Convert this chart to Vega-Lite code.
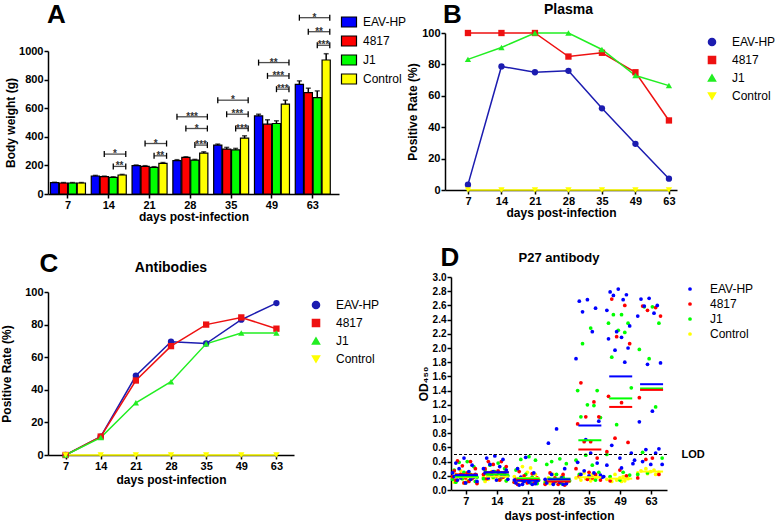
{
"$schema": "https://vega.github.io/schema/vega-lite/v6.json",
"padding": {"left": 0, "top": 1, "right": 0, "bottom": 0},
"config": {
  "font": "Liberation Sans",
  "view": {"stroke": null},
  "axis": {"domainColor": "black", "domainWidth": 1.5, "tickColor": "black", "tickWidth": 1.5, "tickSize": 4, "labelFont": "Liberation Sans", "labelFontWeight": "bold", "labelFontSize": 11, "labelColor": "black", "titleFont": "Liberation Sans", "titleFontWeight": "bold", "titleFontSize": 12, "titleColor": "black", "grid": false, "labelPadding": 1, "titlePadding": 2, "labelOverlap": false},
  "axisY": {"labelOverlap": false},
  "axisQuantitative": {"labelOverlap": false},
  "legend": {"labelFont": "Liberation Sans", "labelFontSize": 12, "labelColor": "black"}
},
"resolve": {"scale": {"color": "independent", "shape": "independent"}, "legend": {"color": "independent", "shape": "independent"}},
"datasets": {
  "bw": [
    {"day": 7, "group": "EAV-HP", "mean": 79, "upper": 82}, {"day": 7, "group": "4817", "mean": 77, "upper": 80}, {"day": 7, "group": "J1", "mean": 77, "upper": 80}, {"day": 7, "group": "Control", "mean": 77, "upper": 80},
    {"day": 14, "group": "EAV-HP", "mean": 126, "upper": 130}, {"day": 14, "group": "4817", "mean": 121, "upper": 125}, {"day": 14, "group": "J1", "mean": 116, "upper": 120}, {"day": 14, "group": "Control", "mean": 133, "upper": 137},
    {"day": 21, "group": "EAV-HP", "mean": 198, "upper": 203}, {"day": 21, "group": "4817", "mean": 193, "upper": 198}, {"day": 21, "group": "J1", "mean": 186, "upper": 191}, {"day": 21, "group": "Control", "mean": 214, "upper": 220},
    {"day": 28, "group": "EAV-HP", "mean": 233, "upper": 240}, {"day": 28, "group": "4817", "mean": 256, "upper": 260}, {"day": 28, "group": "J1", "mean": 237, "upper": 242}, {"day": 28, "group": "Control", "mean": 286, "upper": 295},
    {"day": 35, "group": "EAV-HP", "mean": 342, "upper": 349}, {"day": 35, "group": "4817", "mean": 314, "upper": 326}, {"day": 35, "group": "J1", "mean": 309, "upper": 319}, {"day": 35, "group": "Control", "mean": 391, "upper": 407},
    {"day": 49, "group": "EAV-HP", "mean": 546, "upper": 558}, {"day": 49, "group": "4817", "mean": 488, "upper": 519}, {"day": 49, "group": "J1", "mean": 493, "upper": 512}, {"day": 49, "group": "Control", "mean": 628, "upper": 656},
    {"day": 63, "group": "EAV-HP", "mean": 767, "upper": 791}, {"day": 63, "group": "4817", "mean": 709, "upper": 740}, {"day": 63, "group": "J1", "mean": 674, "upper": 721}, {"day": 63, "group": "Control", "mean": 937, "upper": 981}
  ],
  "brk": [
    {"day": 14, "comp": "4817", "level": 279, "sig": "*"}, {"day": 14, "comp": "J1", "level": 193, "sig": "**"},
    {"day": 21, "comp": "4817", "level": 353, "sig": "*"}, {"day": 21, "comp": "J1", "level": 267, "sig": "**"},
    {"day": 28, "comp": "EAV-HP", "level": 540, "sig": "***"}, {"day": 28, "comp": "4817", "level": 458, "sig": "*"}, {"day": 28, "comp": "J1", "level": 342, "sig": "***"},
    {"day": 35, "comp": "EAV-HP", "level": 656, "sig": "*"}, {"day": 35, "comp": "4817", "level": 558, "sig": "***"}, {"day": 35, "comp": "J1", "level": 458, "sig": "***"},
    {"day": 49, "comp": "EAV-HP", "level": 919, "sig": "**"}, {"day": 49, "comp": "4817", "level": 826, "sig": "***"}, {"day": 49, "comp": "J1", "level": 733, "sig": "***"},
    {"day": 63, "comp": "EAV-HP", "level": 1233, "sig": "*"}, {"day": 63, "comp": "4817", "level": 1135, "sig": "**"}, {"day": 63, "comp": "J1", "level": 1040, "sig": "***"}
  ],
  "plasma": [
    {"day": 7, "g": "EAV-HP", "r": 3.4}, {"day": 14, "g": "EAV-HP", "r": 78.7}, {"day": 21, "g": "EAV-HP", "r": 75}, {"day": 28, "g": "EAV-HP", "r": 75.9}, {"day": 35, "g": "EAV-HP", "r": 52}, {"day": 49, "g": "EAV-HP", "r": 29.4}, {"day": 63, "g": "EAV-HP", "r": 7.2},
    {"day": 7, "g": "4817", "r": 100}, {"day": 14, "g": "4817", "r": 100}, {"day": 21, "g": "4817", "r": 100}, {"day": 28, "g": "4817", "r": 85}, {"day": 35, "g": "4817", "r": 87.4}, {"day": 49, "g": "4817", "r": 75}, {"day": 63, "g": "4817", "r": 44.3},
    {"day": 7, "g": "J1", "r": 83.2}, {"day": 14, "g": "J1", "r": 90.8}, {"day": 21, "g": "J1", "r": 100}, {"day": 28, "g": "J1", "r": 100}, {"day": 35, "g": "J1", "r": 89.5}, {"day": 49, "g": "J1", "r": 72.9}, {"day": 63, "g": "J1", "r": 66.5},
    {"day": 7, "g": "Control", "r": 0}, {"day": 14, "g": "Control", "r": 0}, {"day": 21, "g": "Control", "r": 0}, {"day": 28, "g": "Control", "r": 0}, {"day": 35, "g": "Control", "r": 0}, {"day": 49, "g": "Control", "r": 0}, {"day": 63, "g": "Control", "r": 0}
  ],
  "anti": [
    {"day": 7, "g": "EAV-HP", "r": 0}, {"day": 14, "g": "EAV-HP", "r": 11.3}, {"day": 21, "g": "EAV-HP", "r": 48.6}, {"day": 28, "g": "EAV-HP", "r": 69.5}, {"day": 35, "g": "EAV-HP", "r": 68.4}, {"day": 49, "g": "EAV-HP", "r": 83}, {"day": 63, "g": "EAV-HP", "r": 93.2},
    {"day": 7, "g": "4817", "r": 0}, {"day": 14, "g": "4817", "r": 11.3}, {"day": 21, "g": "4817", "r": 45.7}, {"day": 28, "g": "4817", "r": 66.8}, {"day": 35, "g": "4817", "r": 80}, {"day": 49, "g": "4817", "r": 84.4}, {"day": 63, "g": "4817", "r": 77.5},
    {"day": 7, "g": "J1", "r": 0}, {"day": 14, "g": "J1", "r": 10.7}, {"day": 21, "g": "J1", "r": 32}, {"day": 28, "g": "J1", "r": 45}, {"day": 35, "g": "J1", "r": 68.2}, {"day": 49, "g": "J1", "r": 74.8}, {"day": 63, "g": "J1", "r": 74.8},
    {"day": 7, "g": "Control", "r": 0}, {"day": 14, "g": "Control", "r": 0}, {"day": 21, "g": "Control", "r": 0}, {"day": 28, "g": "Control", "r": 0}, {"day": 35, "g": "Control", "r": 0}, {"day": 49, "g": "Control", "r": 0}, {"day": 63, "g": "Control", "r": 0}
  ],
  "p27mean": [
    {"d": 7, "g": "Control", "m": 0.18}, {"d": 14, "g": "Control", "m": 0.19}, {"d": 21, "g": "Control", "m": 0.17}, {"d": 28, "g": "Control", "m": 0.14}, {"d": 35, "g": "Control", "m": 0.18}, {"d": 49, "g": "Control", "m": 0.16}, {"d": 63, "g": "Control", "m": 0.26},
    {"d": 7, "g": "J1", "m": 0.19}, {"d": 14, "g": "J1", "m": 0.22}, {"d": 21, "g": "J1", "m": 0.16}, {"d": 28, "g": "J1", "m": 0.16}, {"d": 35, "g": "J1", "m": 0.70}, {"d": 49, "g": "J1", "m": 1.29}, {"d": 63, "g": "J1", "m": 1.43},
    {"d": 7, "g": "4817", "m": 0.22}, {"d": 14, "g": "4817", "m": 0.25}, {"d": 21, "g": "4817", "m": 0.14}, {"d": 28, "g": "4817", "m": 0.12}, {"d": 35, "g": "4817", "m": 0.57}, {"d": 49, "g": "4817", "m": 1.17}, {"d": 63, "g": "4817", "m": 1.41},
    {"d": 7, "g": "EAV-HP", "m": 0.21}, {"d": 14, "g": "EAV-HP", "m": 0.25}, {"d": 21, "g": "EAV-HP", "m": 0.13}, {"d": 28, "g": "EAV-HP", "m": 0.15}, {"d": 35, "g": "EAV-HP", "m": 0.91}, {"d": 49, "g": "EAV-HP", "m": 1.60}, {"d": 63, "g": "EAV-HP", "m": 1.49}
  ],
  "p27": [
    {"d":7,"g":"Control","v":0.27,"i":6},{"d":7,"g":"Control","v":0.24,"i":11},{"d":7,"g":"Control","v":0.22,"i":3},{"d":7,"g":"Control","v":0.20,"i":9},{"d":7,"g":"Control","v":0.19,"i":14},{"d":7,"g":"Control","v":0.18,"i":1},{"d":7,"g":"Control","v":0.16,"i":7},{"d":7,"g":"Control","v":0.15,"i":12},{"d":7,"g":"Control","v":0.14,"i":4},{"d":7,"g":"Control","v":0.13,"i":10},{"d":7,"g":"Control","v":0.12,"i":15},{"d":7,"g":"Control","v":0.11,"i":2},{"d":7,"g":"Control","v":0.10,"i":8},
    {"d":14,"g":"Control","v":0.26,"i":6},{"d":14,"g":"Control","v":0.24,"i":11},{"d":14,"g":"Control","v":0.22,"i":3},{"d":14,"g":"Control","v":0.20,"i":9},{"d":14,"g":"Control","v":0.19,"i":14},{"d":14,"g":"Control","v":0.18,"i":1},{"d":14,"g":"Control","v":0.17,"i":7},{"d":14,"g":"Control","v":0.16,"i":12},{"d":14,"g":"Control","v":0.15,"i":4},{"d":14,"g":"Control","v":0.14,"i":10},{"d":14,"g":"Control","v":0.13,"i":15},{"d":14,"g":"Control","v":0.12,"i":2},
    {"d":21,"g":"Control","v":0.33,"i":6},{"d":21,"g":"Control","v":0.31,"i":11},{"d":21,"g":"Control","v":0.30,"i":3},{"d":21,"g":"Control","v":0.25,"i":9},{"d":21,"g":"Control","v":0.22,"i":14},{"d":21,"g":"Control","v":0.19,"i":1},{"d":21,"g":"Control","v":0.17,"i":7},{"d":21,"g":"Control","v":0.15,"i":12},{"d":21,"g":"Control","v":0.13,"i":4},{"d":21,"g":"Control","v":0.11,"i":10},{"d":21,"g":"Control","v":0.10,"i":15},
    {"d":28,"g":"Control","v":0.22,"i":6},{"d":28,"g":"Control","v":0.19,"i":11},{"d":28,"g":"Control","v":0.17,"i":3},{"d":28,"g":"Control","v":0.15,"i":9},{"d":28,"g":"Control","v":0.13,"i":14},{"d":28,"g":"Control","v":0.12,"i":1},{"d":28,"g":"Control","v":0.11,"i":7},{"d":28,"g":"Control","v":0.10,"i":12},{"d":28,"g":"Control","v":0.09,"i":4},
    {"d":35,"g":"Control","v":0.24,"i":6},{"d":35,"g":"Control","v":0.22,"i":11},{"d":35,"g":"Control","v":0.20,"i":3},{"d":35,"g":"Control","v":0.19,"i":9},{"d":35,"g":"Control","v":0.18,"i":14},{"d":35,"g":"Control","v":0.17,"i":1},{"d":35,"g":"Control","v":0.16,"i":7},{"d":35,"g":"Control","v":0.15,"i":12},{"d":35,"g":"Control","v":0.14,"i":4},{"d":35,"g":"Control","v":0.13,"i":10},
    {"d":49,"g":"Control","v":0.22,"i":6},{"d":49,"g":"Control","v":0.19,"i":11},{"d":49,"g":"Control","v":0.18,"i":3},{"d":49,"g":"Control","v":0.17,"i":9},{"d":49,"g":"Control","v":0.16,"i":14},{"d":49,"g":"Control","v":0.15,"i":1},{"d":49,"g":"Control","v":0.14,"i":7},{"d":49,"g":"Control","v":0.13,"i":12},{"d":49,"g":"Control","v":0.12,"i":4},{"d":49,"g":"Control","v":0.12,"i":10},
    {"d":63,"g":"Control","v":0.30,"i":6},{"d":63,"g":"Control","v":0.28,"i":11},{"d":63,"g":"Control","v":0.27,"i":3},{"d":63,"g":"Control","v":0.26,"i":9},{"d":63,"g":"Control","v":0.25,"i":14},{"d":63,"g":"Control","v":0.24,"i":1},{"d":63,"g":"Control","v":0.23,"i":7},{"d":63,"g":"Control","v":0.22,"i":12},
    {"d":7,"g":"J1","v":0.40,"i":10},{"d":7,"g":"J1","v":0.39,"i":5},{"d":7,"g":"J1","v":0.33,"i":14},{"d":7,"g":"J1","v":0.28,"i":2},{"d":7,"g":"J1","v":0.25,"i":8},{"d":7,"g":"J1","v":0.22,"i":12},{"d":7,"g":"J1","v":0.20,"i":4},{"d":7,"g":"J1","v":0.18,"i":16},{"d":7,"g":"J1","v":0.16,"i":7},{"d":7,"g":"J1","v":0.15,"i":1},{"d":7,"g":"J1","v":0.13,"i":11},{"d":7,"g":"J1","v":0.12,"i":15},{"d":7,"g":"J1","v":0.11,"i":3},{"d":7,"g":"J1","v":0.10,"i":9},
    {"d":14,"g":"J1","v":0.38,"i":10},{"d":14,"g":"J1","v":0.35,"i":5},{"d":14,"g":"J1","v":0.30,"i":14},{"d":14,"g":"J1","v":0.28,"i":2},{"d":14,"g":"J1","v":0.26,"i":8},{"d":14,"g":"J1","v":0.24,"i":12},{"d":14,"g":"J1","v":0.22,"i":4},{"d":14,"g":"J1","v":0.20,"i":16},{"d":14,"g":"J1","v":0.18,"i":7},{"d":14,"g":"J1","v":0.16,"i":1},{"d":14,"g":"J1","v":0.15,"i":11},{"d":14,"g":"J1","v":0.13,"i":15},
    {"d":21,"g":"J1","v":0.47,"i":10},{"d":21,"g":"J1","v":0.43,"i":5},{"d":21,"g":"J1","v":0.42,"i":14},{"d":21,"g":"J1","v":0.28,"i":2},{"d":21,"g":"J1","v":0.22,"i":8},{"d":21,"g":"J1","v":0.18,"i":12},{"d":21,"g":"J1","v":0.16,"i":4},{"d":21,"g":"J1","v":0.14,"i":16},{"d":21,"g":"J1","v":0.12,"i":7},{"d":21,"g":"J1","v":0.11,"i":1},{"d":21,"g":"J1","v":0.10,"i":11},{"d":21,"g":"J1","v":0.09,"i":15},
    {"d":28,"g":"J1","v":0.44,"i":10},{"d":28,"g":"J1","v":0.40,"i":5},{"d":28,"g":"J1","v":0.37,"i":14},{"d":28,"g":"J1","v":0.36,"i":2},{"d":28,"g":"J1","v":0.22,"i":8},{"d":28,"g":"J1","v":0.18,"i":12},{"d":28,"g":"J1","v":0.15,"i":4},{"d":28,"g":"J1","v":0.13,"i":16},{"d":28,"g":"J1","v":0.12,"i":7},{"d":28,"g":"J1","v":0.10,"i":1},{"d":28,"g":"J1","v":0.09,"i":11},
    {"d":35,"g":"J1","v":2.28,"i":10},{"d":35,"g":"J1","v":2.06,"i":5},{"d":35,"g":"J1","v":1.40,"i":14},{"d":35,"g":"J1","v":1.40,"i":2},{"d":35,"g":"J1","v":1.20,"i":8},{"d":35,"g":"J1","v":1.19,"i":12},{"d":35,"g":"J1","v":1.03,"i":4},{"d":35,"g":"J1","v":1.02,"i":16},{"d":35,"g":"J1","v":0.49,"i":7},{"d":35,"g":"J1","v":0.42,"i":1},{"d":35,"g":"J1","v":0.35,"i":11},{"d":35,"g":"J1","v":0.25,"i":15},{"d":35,"g":"J1","v":0.22,"i":3},{"d":35,"g":"J1","v":0.18,"i":9},{"d":35,"g":"J1","v":0.14,"i":13},
    {"d":49,"g":"J1","v":2.47,"i":10},{"d":49,"g":"J1","v":2.47,"i":5},{"d":49,"g":"J1","v":2.35,"i":14},{"d":49,"g":"J1","v":2.35,"i":2},{"d":49,"g":"J1","v":2.25,"i":8},{"d":49,"g":"J1","v":2.22,"i":12},{"d":49,"g":"J1","v":1.87,"i":4},{"d":49,"g":"J1","v":1.44,"i":16},{"d":49,"g":"J1","v":0.92,"i":7},{"d":49,"g":"J1","v":0.50,"i":1},{"d":49,"g":"J1","v":0.25,"i":11},{"d":49,"g":"J1","v":0.21,"i":15},{"d":49,"g":"J1","v":0.19,"i":3},{"d":49,"g":"J1","v":0.14,"i":9},
    {"d":63,"g":"J1","v":2.58,"i":10},{"d":63,"g":"J1","v":2.58,"i":5},{"d":63,"g":"J1","v":2.35,"i":14},{"d":63,"g":"J1","v":1.98,"i":2},{"d":63,"g":"J1","v":1.85,"i":8},{"d":63,"g":"J1","v":1.17,"i":12},{"d":63,"g":"J1","v":0.53,"i":4},{"d":63,"g":"J1","v":0.45,"i":16},{"d":63,"g":"J1","v":0.24,"i":7},{"d":63,"g":"J1","v":0.22,"i":1},
    {"d":7,"g":"4817","v":0.41,"i":4},{"d":7,"g":"4817","v":0.40,"i":12},{"d":7,"g":"4817","v":0.34,"i":7},{"d":7,"g":"4817","v":0.30,"i":15},{"d":7,"g":"4817","v":0.27,"i":2},{"d":7,"g":"4817","v":0.24,"i":10},{"d":7,"g":"4817","v":0.22,"i":6},{"d":7,"g":"4817","v":0.20,"i":14},{"d":7,"g":"4817","v":0.19,"i":1},{"d":7,"g":"4817","v":0.17,"i":9},{"d":7,"g":"4817","v":0.16,"i":13},{"d":7,"g":"4817","v":0.14,"i":3},{"d":7,"g":"4817","v":0.12,"i":11},{"d":7,"g":"4817","v":0.10,"i":8},{"d":7,"g":"4817","v":0.09,"i":16},
    {"d":14,"g":"4817","v":0.40,"i":4},{"d":14,"g":"4817","v":0.40,"i":12},{"d":14,"g":"4817","v":0.36,"i":7},{"d":14,"g":"4817","v":0.33,"i":15},{"d":14,"g":"4817","v":0.30,"i":2},{"d":14,"g":"4817","v":0.27,"i":10},{"d":14,"g":"4817","v":0.25,"i":6},{"d":14,"g":"4817","v":0.24,"i":14},{"d":14,"g":"4817","v":0.22,"i":1},{"d":14,"g":"4817","v":0.20,"i":9},{"d":14,"g":"4817","v":0.18,"i":13},{"d":14,"g":"4817","v":0.16,"i":3},{"d":14,"g":"4817","v":0.14,"i":11},
    {"d":21,"g":"4817","v":0.26,"i":4},{"d":21,"g":"4817","v":0.23,"i":12},{"d":21,"g":"4817","v":0.20,"i":7},{"d":21,"g":"4817","v":0.17,"i":15},{"d":21,"g":"4817","v":0.15,"i":2},{"d":21,"g":"4817","v":0.14,"i":10},{"d":21,"g":"4817","v":0.13,"i":6},{"d":21,"g":"4817","v":0.12,"i":14},{"d":21,"g":"4817","v":0.11,"i":1},{"d":21,"g":"4817","v":0.10,"i":9},{"d":21,"g":"4817","v":0.09,"i":13},{"d":21,"g":"4817","v":0.08,"i":3},
    {"d":28,"g":"4817","v":0.24,"i":4},{"d":28,"g":"4817","v":0.22,"i":12},{"d":28,"g":"4817","v":0.17,"i":7},{"d":28,"g":"4817","v":0.14,"i":15},{"d":28,"g":"4817","v":0.12,"i":2},{"d":28,"g":"4817","v":0.11,"i":10},{"d":28,"g":"4817","v":0.10,"i":6},{"d":28,"g":"4817","v":0.09,"i":14},{"d":28,"g":"4817","v":0.08,"i":1},{"d":28,"g":"4817","v":0.08,"i":9},{"d":28,"g":"4817","v":0.07,"i":13},
    {"d":35,"g":"4817","v":1.51,"i":4},{"d":35,"g":"4817","v":1.24,"i":12},{"d":35,"g":"4817","v":1.03,"i":7},{"d":35,"g":"4817","v":1.03,"i":15},{"d":35,"g":"4817","v":0.93,"i":2},{"d":35,"g":"4817","v":0.68,"i":10},{"d":35,"g":"4817","v":0.68,"i":6},{"d":35,"g":"4817","v":0.45,"i":14},{"d":35,"g":"4817","v":0.30,"i":1},{"d":35,"g":"4817","v":0.25,"i":9},{"d":35,"g":"4817","v":0.22,"i":13},{"d":35,"g":"4817","v":0.19,"i":3},{"d":35,"g":"4817","v":0.17,"i":11},{"d":35,"g":"4817","v":0.15,"i":8},{"d":35,"g":"4817","v":0.14,"i":16},
    {"d":49,"g":"4817","v":2.69,"i":4},{"d":49,"g":"4817","v":2.60,"i":12},{"d":49,"g":"4817","v":2.16,"i":7},{"d":49,"g":"4817","v":2.06,"i":15},{"d":49,"g":"4817","v":1.32,"i":2},{"d":49,"g":"4817","v":1.23,"i":10},{"d":49,"g":"4817","v":0.73,"i":6},{"d":49,"g":"4817","v":0.67,"i":14},{"d":49,"g":"4817","v":0.54,"i":1},{"d":49,"g":"4817","v":0.28,"i":9},{"d":49,"g":"4817","v":0.20,"i":13},{"d":49,"g":"4817","v":0.13,"i":3},
    {"d":63,"g":"4817","v":2.59,"i":4},{"d":63,"g":"4817","v":2.57,"i":12},{"d":63,"g":"4817","v":2.53,"i":7},{"d":63,"g":"4817","v":2.45,"i":15},{"d":63,"g":"4817","v":1.30,"i":2},{"d":63,"g":"4817","v":0.45,"i":10},{"d":63,"g":"4817","v":0.43,"i":6},{"d":63,"g":"4817","v":0.22,"i":14},{"d":63,"g":"4817","v":0.17,"i":1},
    {"d":7,"g":"EAV-HP","v":0.45,"i":8},{"d":7,"g":"EAV-HP","v":0.38,"i":3},{"d":7,"g":"EAV-HP","v":0.35,"i":13},{"d":7,"g":"EAV-HP","v":0.30,"i":5},{"d":7,"g":"EAV-HP","v":0.26,"i":11},{"d":7,"g":"EAV-HP","v":0.24,"i":1},{"d":7,"g":"EAV-HP","v":0.22,"i":15},{"d":7,"g":"EAV-HP","v":0.21,"i":7},{"d":7,"g":"EAV-HP","v":0.20,"i":10},{"d":7,"g":"EAV-HP","v":0.19,"i":2},{"d":7,"g":"EAV-HP","v":0.18,"i":14},{"d":7,"g":"EAV-HP","v":0.17,"i":6},{"d":7,"g":"EAV-HP","v":0.15,"i":12},{"d":7,"g":"EAV-HP","v":0.14,"i":4},{"d":7,"g":"EAV-HP","v":0.12,"i":16},{"d":7,"g":"EAV-HP","v":0.10,"i":9},
    {"d":14,"g":"EAV-HP","v":0.48,"i":8},{"d":14,"g":"EAV-HP","v":0.45,"i":3},{"d":14,"g":"EAV-HP","v":0.43,"i":13},{"d":14,"g":"EAV-HP","v":0.36,"i":5},{"d":14,"g":"EAV-HP","v":0.33,"i":11},{"d":14,"g":"EAV-HP","v":0.30,"i":1},{"d":14,"g":"EAV-HP","v":0.28,"i":15},{"d":14,"g":"EAV-HP","v":0.26,"i":7},{"d":14,"g":"EAV-HP","v":0.25,"i":10},{"d":14,"g":"EAV-HP","v":0.24,"i":2},{"d":14,"g":"EAV-HP","v":0.22,"i":14},{"d":14,"g":"EAV-HP","v":0.21,"i":6},{"d":14,"g":"EAV-HP","v":0.19,"i":12},{"d":14,"g":"EAV-HP","v":0.17,"i":4},{"d":14,"g":"EAV-HP","v":0.15,"i":16},{"d":14,"g":"EAV-HP","v":0.14,"i":9},
    {"d":21,"g":"EAV-HP","v":0.46,"i":8},{"d":21,"g":"EAV-HP","v":0.30,"i":3},{"d":21,"g":"EAV-HP","v":0.24,"i":13},{"d":21,"g":"EAV-HP","v":0.18,"i":5},{"d":21,"g":"EAV-HP","v":0.16,"i":11},{"d":21,"g":"EAV-HP","v":0.14,"i":1},{"d":21,"g":"EAV-HP","v":0.13,"i":15},{"d":21,"g":"EAV-HP","v":0.12,"i":7},{"d":21,"g":"EAV-HP","v":0.11,"i":10},{"d":21,"g":"EAV-HP","v":0.10,"i":2},{"d":21,"g":"EAV-HP","v":0.09,"i":14},{"d":21,"g":"EAV-HP","v":0.08,"i":6},{"d":21,"g":"EAV-HP","v":0.08,"i":12},{"d":21,"g":"EAV-HP","v":0.07,"i":4},
    {"d":28,"g":"EAV-HP","v":0.86,"i":8},{"d":28,"g":"EAV-HP","v":0.66,"i":3},{"d":28,"g":"EAV-HP","v":0.30,"i":13},{"d":28,"g":"EAV-HP","v":0.22,"i":5},{"d":28,"g":"EAV-HP","v":0.17,"i":11},{"d":28,"g":"EAV-HP","v":0.15,"i":1},{"d":28,"g":"EAV-HP","v":0.13,"i":15},{"d":28,"g":"EAV-HP","v":0.12,"i":7},{"d":28,"g":"EAV-HP","v":0.11,"i":10},{"d":28,"g":"EAV-HP","v":0.10,"i":2},{"d":28,"g":"EAV-HP","v":0.09,"i":14},{"d":28,"g":"EAV-HP","v":0.08,"i":6},{"d":28,"g":"EAV-HP","v":0.08,"i":12},
    {"d":35,"g":"EAV-HP","v":2.68,"i":8},{"d":35,"g":"EAV-HP","v":2.66,"i":3},{"d":35,"g":"EAV-HP","v":2.56,"i":13},{"d":35,"g":"EAV-HP","v":2.51,"i":5},{"d":35,"g":"EAV-HP","v":2.23,"i":11},{"d":35,"g":"EAV-HP","v":1.85,"i":1},{"d":35,"g":"EAV-HP","v":0.97,"i":15},{"d":35,"g":"EAV-HP","v":0.71,"i":7},{"d":35,"g":"EAV-HP","v":0.52,"i":10},{"d":35,"g":"EAV-HP","v":0.39,"i":2},{"d":35,"g":"EAV-HP","v":0.38,"i":14},{"d":35,"g":"EAV-HP","v":0.27,"i":6},{"d":35,"g":"EAV-HP","v":0.24,"i":12},{"d":35,"g":"EAV-HP","v":0.22,"i":4},{"d":35,"g":"EAV-HP","v":0.21,"i":16},{"d":35,"g":"EAV-HP","v":0.20,"i":9},{"d":35,"g":"EAV-HP","v":0.19,"i":18},{"d":35,"g":"EAV-HP","v":0.18,"i":17},
    {"d":49,"g":"EAV-HP","v":2.83,"i":8},{"d":49,"g":"EAV-HP","v":2.79,"i":3},{"d":49,"g":"EAV-HP","v":2.75,"i":13},{"d":49,"g":"EAV-HP","v":2.74,"i":5},{"d":49,"g":"EAV-HP","v":2.68,"i":11},{"d":49,"g":"EAV-HP","v":2.53,"i":1},{"d":49,"g":"EAV-HP","v":2.31,"i":15},{"d":49,"g":"EAV-HP","v":2.23,"i":7},{"d":49,"g":"EAV-HP","v":2.15,"i":10},{"d":49,"g":"EAV-HP","v":2.13,"i":2},{"d":49,"g":"EAV-HP","v":2.00,"i":14},{"d":49,"g":"EAV-HP","v":1.97,"i":6},{"d":49,"g":"EAV-HP","v":1.80,"i":12},{"d":49,"g":"EAV-HP","v":0.63,"i":4},{"d":49,"g":"EAV-HP","v":0.52,"i":16},{"d":49,"g":"EAV-HP","v":0.45,"i":9},{"d":49,"g":"EAV-HP","v":0.42,"i":18},{"d":49,"g":"EAV-HP","v":0.37,"i":17},{"d":49,"g":"EAV-HP","v":0.35,"i":1},{"d":49,"g":"EAV-HP","v":0.31,"i":10},
    {"d":63,"g":"EAV-HP","v":2.70,"i":8},{"d":63,"g":"EAV-HP","v":2.69,"i":3},{"d":63,"g":"EAV-HP","v":2.60,"i":13},{"d":63,"g":"EAV-HP","v":2.59,"i":5},{"d":63,"g":"EAV-HP","v":2.49,"i":11},{"d":63,"g":"EAV-HP","v":2.45,"i":1},{"d":63,"g":"EAV-HP","v":1.79,"i":15},{"d":63,"g":"EAV-HP","v":1.77,"i":7},{"d":63,"g":"EAV-HP","v":1.11,"i":10},{"d":63,"g":"EAV-HP","v":0.96,"i":2},{"d":63,"g":"EAV-HP","v":0.58,"i":14},{"d":63,"g":"EAV-HP","v":0.57,"i":6},{"d":63,"g":"EAV-HP","v":0.52,"i":12},{"d":63,"g":"EAV-HP","v":0.40,"i":4},{"d":63,"g":"EAV-HP","v":0.36,"i":16},{"d":63,"g":"EAV-HP","v":0.36,"i":9}
  ]
},
"spacing": 23,
"vconcat": [
 {
  "spacing": -1,
  "resolve": {"scale": {"color": "independent", "shape": "independent"}, "legend": {"color": "independent", "shape": "independent"}},
  "hconcat": [
   {
    "width": 291, "height": 161,
    "data": {"name": "bw"},
    "encoding": {
      "x": {"field": "day", "type": "ordinal", "title": "days post-infection", "scale": {"type": "band", "paddingInner": 0.142, "paddingOuter": 0.137, "align": 0.22}, "axis": {"labelAngle": 0, "titlePadding": 1}}
    },
    "layer": [
     {"transform": [{"filter": "datum.group === 'EAV-HP'"}],
      "mark": {"type": "bar", "stroke": "black", "strokeWidth": 1.2, "width": 8.2, "xOffset": -13.4},
      "encoding": {
        "y": {"field": "mean", "type": "quantitative", "stack": null, "title": "Body weight (g)", "scale": {"domain": [0, 1000], "range": [161, 18]}, "axis": {"values": [0, 200, 400, 600, 800, 1000], "format": "d", "titleX": -31, "labelOverlap": false}},
        "color": {"field": "group", "type": "nominal", "scale": {"domain": ["EAV-HP", "4817", "J1", "Control"], "range": ["#0000ff", "#ff0000", "#00ff00", "#ffff00"]},
          "legend": {"title": null, "orient": "none", "legendX": 295, "legendY": -17, "symbolType": "M-1.5,-1H1.5V1H-1.5Z", "symbolSize": 100, "symbolStrokeColor": "black", "symbolStrokeWidth": 1.2, "symbolOpacity": 1, "labelFontSize": 12, "labelOffset": 8, "rowPadding": 3}}
      }},
     {"transform": [{"filter": "datum.group === '4817'"}],
      "mark": {"type": "bar", "stroke": "black", "strokeWidth": 1.2, "width": 8.2, "xOffset": -4.47},
      "encoding": {
        "y": {"field": "mean", "type": "quantitative", "stack": null, "title": "Body weight (g)", "axis": {"values": [0, 200, 400, 600, 800, 1000], "format": "d", "titleX": -31, "labelOverlap": false}},
        "color": {"field": "group", "type": "nominal"}
      }},
     {"transform": [{"filter": "datum.group === 'J1'"}],
      "mark": {"type": "bar", "stroke": "black", "strokeWidth": 1.2, "width": 8.2, "xOffset": 4.47},
      "encoding": {
        "y": {"field": "mean", "type": "quantitative", "stack": null, "title": "Body weight (g)", "axis": {"values": [0, 200, 400, 600, 800, 1000], "format": "d", "titleX": -31, "labelOverlap": false}},
        "color": {"field": "group", "type": "nominal"}
      }},
     {"transform": [{"filter": "datum.group === 'Control'"}],
      "mark": {"type": "bar", "stroke": "black", "strokeWidth": 1.2, "width": 8.2, "xOffset": 13.4},
      "encoding": {
        "y": {"field": "mean", "type": "quantitative", "stack": null, "title": "Body weight (g)", "axis": {"values": [0, 200, 400, 600, 800, 1000], "format": "d", "titleX": -31, "labelOverlap": false}},
        "color": {"field": "group", "type": "nominal"}
      }},
     {"transform": [{"filter": "datum.group === 'EAV-HP'"}], "mark": {"type": "rule", "color": "black", "strokeWidth": 1.5, "xOffset": -13.4},
      "encoding": {"y": {"field": "mean", "type": "quantitative", "title": "Body weight (g)", "axis": {"values": [0, 200, 400, 600, 800, 1000], "format": "d", "titleX": -31, "labelOverlap": false}}, "y2": {"field": "upper"}}},
     {"transform": [{"filter": "datum.group === '4817'"}], "mark": {"type": "rule", "color": "black", "strokeWidth": 1.5, "xOffset": -4.47},
      "encoding": {"y": {"field": "mean", "type": "quantitative", "title": "Body weight (g)", "axis": {"values": [0, 200, 400, 600, 800, 1000], "format": "d", "titleX": -31, "labelOverlap": false}}, "y2": {"field": "upper"}}},
     {"transform": [{"filter": "datum.group === 'J1'"}], "mark": {"type": "rule", "color": "black", "strokeWidth": 1.5, "xOffset": 4.47},
      "encoding": {"y": {"field": "mean", "type": "quantitative", "title": "Body weight (g)", "axis": {"values": [0, 200, 400, 600, 800, 1000], "format": "d", "titleX": -31, "labelOverlap": false}}, "y2": {"field": "upper"}}},
     {"transform": [{"filter": "datum.group === 'Control'"}], "mark": {"type": "rule", "color": "black", "strokeWidth": 1.5, "xOffset": 13.4},
      "encoding": {"y": {"field": "mean", "type": "quantitative", "title": "Body weight (g)", "axis": {"values": [0, 200, 400, 600, 800, 1000], "format": "d", "titleX": -31, "labelOverlap": false}}, "y2": {"field": "upper"}}},
     {"transform": [{"filter": "datum.group === 'EAV-HP'"}], "mark": {"type": "tick", "color": "black", "thickness": 1.5, "size": 5, "xOffset": -13.4},
      "encoding": {"y": {"field": "upper", "type": "quantitative", "title": "Body weight (g)", "axis": {"values": [0, 200, 400, 600, 800, 1000], "format": "d", "titleX": -31, "labelOverlap": false}}}},
     {"transform": [{"filter": "datum.group === '4817'"}], "mark": {"type": "tick", "color": "black", "thickness": 1.5, "size": 5, "xOffset": -4.47},
      "encoding": {"y": {"field": "upper", "type": "quantitative", "title": "Body weight (g)", "axis": {"values": [0, 200, 400, 600, 800, 1000], "format": "d", "titleX": -31, "labelOverlap": false}}}},
     {"transform": [{"filter": "datum.group === 'J1'"}], "mark": {"type": "tick", "color": "black", "thickness": 1.5, "size": 5, "xOffset": 4.47},
      "encoding": {"y": {"field": "upper", "type": "quantitative", "title": "Body weight (g)", "axis": {"values": [0, 200, 400, 600, 800, 1000], "format": "d", "titleX": -31, "labelOverlap": false}}}},
     {"transform": [{"filter": "datum.group === 'Control'"}], "mark": {"type": "tick", "color": "black", "thickness": 1.5, "size": 5, "xOffset": 13.4},
      "encoding": {"y": {"field": "upper", "type": "quantitative", "title": "Body weight (g)", "axis": {"values": [0, 200, 400, 600, 800, 1000], "format": "d", "titleX": -31, "labelOverlap": false}}}},
     {"data": {"name": "brk"}, "transform": [{"filter": "datum.comp === 'EAV-HP'"}],
      "mark": {"type": "tick", "color": "black", "thickness": 1.3, "size": 30.5, "xOffset": 1.75},
      "encoding": {"y": {"field": "level", "type": "quantitative", "title": "Body weight (g)", "axis": {"values": [0, 200, 400, 600, 800, 1000], "format": "d", "titleX": -31, "labelOverlap": false}}}},
     {"data": {"name": "brk"}, "transform": [{"filter": "datum.comp === '4817'"}],
      "mark": {"type": "tick", "color": "black", "thickness": 1.3, "size": 21.5, "xOffset": 6.25},
      "encoding": {"y": {"field": "level", "type": "quantitative", "title": "Body weight (g)", "axis": {"values": [0, 200, 400, 600, 800, 1000], "format": "d", "titleX": -31, "labelOverlap": false}}}},
     {"data": {"name": "brk"}, "transform": [{"filter": "datum.comp === 'J1'"}],
      "mark": {"type": "tick", "color": "black", "thickness": 1.3, "size": 12.5, "xOffset": 10.75},
      "encoding": {"y": {"field": "level", "type": "quantitative", "title": "Body weight (g)", "axis": {"values": [0, 200, 400, 600, 800, 1000], "format": "d", "titleX": -31, "labelOverlap": false}}}},
     {"data": {"name": "brk"}, "transform": [{"filter": "datum.comp === 'EAV-HP'"}],
      "mark": {"type": "rule", "color": "black", "strokeWidth": 1.3, "xOffset": -13.4, "yOffset": -3, "y2Offset": 3},
      "encoding": {"y": {"field": "level", "type": "quantitative", "title": "Body weight (g)", "axis": {"values": [0, 200, 400, 600, 800, 1000], "format": "d", "titleX": -31, "labelOverlap": false}}, "y2": {"field": "level"}}},
     {"data": {"name": "brk"}, "transform": [{"filter": "datum.comp === '4817'"}],
      "mark": {"type": "rule", "color": "black", "strokeWidth": 1.3, "xOffset": -4.5, "yOffset": -3, "y2Offset": 3},
      "encoding": {"y": {"field": "level", "type": "quantitative", "title": "Body weight (g)", "axis": {"values": [0, 200, 400, 600, 800, 1000], "format": "d", "titleX": -31, "labelOverlap": false}}, "y2": {"field": "level"}}},
     {"data": {"name": "brk"}, "transform": [{"filter": "datum.comp === 'J1'"}],
      "mark": {"type": "rule", "color": "black", "strokeWidth": 1.3, "xOffset": 4.5, "yOffset": -3, "y2Offset": 3},
      "encoding": {"y": {"field": "level", "type": "quantitative", "title": "Body weight (g)", "axis": {"values": [0, 200, 400, 600, 800, 1000], "format": "d", "titleX": -31, "labelOverlap": false}}, "y2": {"field": "level"}}},
     {"data": {"name": "brk"},
      "mark": {"type": "rule", "color": "black", "strokeWidth": 1.3, "xOffset": 17, "yOffset": -3, "y2Offset": 3},
      "encoding": {"y": {"field": "level", "type": "quantitative", "title": "Body weight (g)", "axis": {"values": [0, 200, 400, 600, 800, 1000], "format": "d", "titleX": -31, "labelOverlap": false}}, "y2": {"field": "level"}}},
     {"data": {"name": "brk"}, "transform": [{"filter": "datum.comp === 'EAV-HP'"}],
      "mark": {"type": "text", "xOffset": 1.75, "baseline": "alphabetic", "dy": 3, "fontSize": 10, "fontWeight": "bold", "color": "#333333"},
      "encoding": {"y": {"field": "level", "type": "quantitative", "title": "Body weight (g)", "axis": {"values": [0, 200, 400, 600, 800, 1000], "format": "d", "titleX": -31, "labelOverlap": false}}, "text": {"field": "sig"}}},
     {"data": {"name": "brk"}, "transform": [{"filter": "datum.comp === '4817'"}],
      "mark": {"type": "text", "xOffset": 6.25, "baseline": "alphabetic", "dy": 3, "fontSize": 10, "fontWeight": "bold", "color": "#333333"},
      "encoding": {"y": {"field": "level", "type": "quantitative", "title": "Body weight (g)", "axis": {"values": [0, 200, 400, 600, 800, 1000], "format": "d", "titleX": -31, "labelOverlap": false}}, "text": {"field": "sig"}}},
     {"data": {"name": "brk"}, "transform": [{"filter": "datum.comp === 'J1'"}],
      "mark": {"type": "text", "xOffset": 10.75, "baseline": "alphabetic", "dy": 3, "fontSize": 10, "fontWeight": "bold", "color": "#333333"},
      "encoding": {"y": {"field": "level", "type": "quantitative", "title": "Body weight (g)", "axis": {"values": [0, 200, 400, 600, 800, 1000], "format": "d", "titleX": -31, "labelOverlap": false}}, "text": {"field": "sig"}}},
     {"data": {"values": [{"day": 7, "lvl": 1196, "t": "A"}]},
      "mark": {"type": "text", "fontSize": 26, "fontWeight": "bold", "align": "left", "baseline": "alphabetic", "dx": -21},
      "encoding": {"y": {"field": "lvl", "type": "quantitative", "title": "Body weight (g)", "axis": {"values": [0, 200, 400, 600, 800, 1000], "format": "d", "titleX": -31, "labelOverlap": false}}, "text": {"field": "t"}}}
    ]
   },
   {
    "width": 232, "height": 157,
    "data": {"name": "plasma"},
    "encoding": {
      "x": {"field": "day", "type": "ordinal", "title": "days post-infection", "scale": {"type": "point", "padding": 0.463, "align": 0.74}, "axis": {"labelAngle": 0, "titlePadding": 1}}
    },
    "layer": [
     {"mark": {"type": "line", "strokeWidth": 1.5},
      "encoding": {
        "y": {"field": "r", "type": "quantitative", "title": "Positive Rate (%)", "scale": {"domain": [0, 100]}, "axis": {"values": [0, 20, 40, 60, 80, 100], "labelOverlap": false}},
        "color": {"field": "g", "type": "nominal", "scale": {"domain": ["EAV-HP", "4817", "J1", "Control"], "range": ["#1c1cb0", "#ee1111", "#22ee22", "#ffff00"]},
          "legend": {"title": null, "orient": "none", "legendX": 261, "legendY": 3, "symbolSize": 50, "symbolOpacity": 1, "labelFontSize": 12, "labelOffset": 14, "rowPadding": 4}}
      }},
     {"mark": {"type": "point", "filled": true, "size": 40, "opacity": 1},
      "encoding": {
        "y": {"field": "r", "type": "quantitative", "title": "Positive Rate (%)", "axis": {"values": [0, 20, 40, 60, 80, 100], "labelOverlap": false}},
        "color": {"field": "g", "type": "nominal", "scale": {"domain": ["EAV-HP", "4817", "J1", "Control"], "range": ["#1c1cb0", "#ee1111", "#22ee22", "#ffff00"]},
          "legend": {"title": null, "orient": "none", "legendX": 261, "legendY": 3, "symbolSize": 50, "symbolOpacity": 1, "labelFontSize": 12, "labelOffset": 14, "rowPadding": 4}},
        "shape": {"field": "g", "type": "nominal", "scale": {"domain": ["EAV-HP", "4817", "J1", "Control"], "range": ["circle", "square", "triangle-up", "triangle-down"]},
          "legend": {"title": null, "orient": "none", "legendX": 261, "legendY": 3, "symbolSize": 50, "symbolOpacity": 1, "labelFontSize": 12, "labelOffset": 14, "rowPadding": 4}}
      }},
     {"data": {"values": [{"day": 28, "lvl": 112, "t": "Plasma"}]},
      "mark": {"type": "text", "fontSize": 14, "fontWeight": "bold", "align": "center", "baseline": "alphabetic"},
      "encoding": {"y": {"field": "lvl", "type": "quantitative", "title": "Positive Rate (%)", "axis": {"values": [0, 20, 40, 60, 80, 100], "labelOverlap": false}}, "text": {"field": "t"}}},
     {"data": {"values": [{"day": 7, "lvl": 106.4, "t": "B"}]},
      "mark": {"type": "text", "fontSize": 26, "fontWeight": "bold", "align": "left", "baseline": "alphabetic", "dx": -25},
      "encoding": {"y": {"field": "lvl", "type": "quantitative", "title": "Positive Rate (%)", "axis": {"values": [0, 20, 40, 60, 80, 100], "labelOverlap": false}}, "text": {"field": "t"}}}
    ]
   }
  ]
 },
 {
  "spacing": 37,
  "resolve": {"scale": {"color": "independent", "shape": "independent"}, "legend": {"color": "independent", "shape": "independent"}},
  "hconcat": [
   {
    "width": 246, "height": 178,
    "data": {"name": "anti"},
    "encoding": {
      "x": {"field": "day", "type": "ordinal", "title": "days post-infection", "scale": {"type": "point", "padding": 0.5}, "axis": {"labelAngle": 0, "titlePadding": 3}}
    },
    "layer": [
     {"mark": {"type": "line", "strokeWidth": 1.5},
      "encoding": {
        "y": {"field": "r", "type": "quantitative", "title": "Positive Rate (%)", "scale": {"domain": [0, 100], "range": [178, 15]}, "axis": {"values": [0, 20, 40, 60, 80, 100], "titlePadding": 11, "labelOverlap": false}},
        "color": {"field": "g", "type": "nominal", "scale": {"domain": ["EAV-HP", "4817", "J1", "Control"], "range": ["#1c1cb0", "#ee1111", "#22ee22", "#ffff00"]},
          "legend": {"title": null, "orient": "none", "legendX": 262, "legendY": 22, "symbolSize": 50, "symbolOpacity": 1, "labelFontSize": 12, "labelOffset": 14, "rowPadding": 4}}
      }},
     {"mark": {"type": "point", "filled": true, "size": 40, "opacity": 1},
      "encoding": {
        "y": {"field": "r", "type": "quantitative", "title": "Positive Rate (%)", "axis": {"values": [0, 20, 40, 60, 80, 100], "titlePadding": 11, "labelOverlap": false}},
        "color": {"field": "g", "type": "nominal", "scale": {"domain": ["EAV-HP", "4817", "J1", "Control"], "range": ["#1c1cb0", "#ee1111", "#22ee22", "#ffff00"]},
          "legend": {"title": null, "orient": "none", "legendX": 262, "legendY": 22, "symbolSize": 50, "symbolOpacity": 1, "labelFontSize": 12, "labelOffset": 14, "rowPadding": 4}},
        "shape": {"field": "g", "type": "nominal", "scale": {"domain": ["EAV-HP", "4817", "J1", "Control"], "range": ["circle", "square", "triangle-up", "triangle-down"]},
          "legend": {"title": null, "orient": "none", "legendX": 262, "legendY": 22, "symbolSize": 50, "symbolOpacity": 1, "labelFontSize": 12, "labelOffset": 14, "rowPadding": 4}}
      }},
     {"data": {"values": [{"day": 28, "lvl": 112.3, "t": "Antibodies"}]},
      "mark": {"type": "text", "fontSize": 14, "fontWeight": "bold", "align": "center", "baseline": "alphabetic"},
      "encoding": {"y": {"field": "lvl", "type": "quantitative", "title": "Positive Rate (%)", "axis": {"values": [0, 20, 40, 60, 80, 100], "titlePadding": 11, "labelOverlap": false}}, "text": {"field": "t"}}},
     {"data": {"values": [{"day": 7, "lvl": 112.3, "t": "C"}]},
      "mark": {"type": "text", "fontSize": 26, "fontWeight": "bold", "align": "left", "baseline": "alphabetic", "dx": -26},
      "encoding": {"y": {"field": "lvl", "type": "quantitative", "title": "Positive Rate (%)", "axis": {"values": [0, 20, 40, 60, 80, 100], "titlePadding": 11, "labelOverlap": false}}, "text": {"field": "t"}}}
    ]
   },
   {
    "width": 216, "height": 213,
    "encoding": {
      "x": {"field": "d", "type": "ordinal", "title": "days post-infection", "scale": {"type": "band", "paddingInner": 0.05, "paddingOuter": 0.025}, "axis": {"labelAngle": 0, "titlePadding": 4}}
    },
    "layer": [
     {"data": {"name": "p27"},
      "mark": {"type": "circle", "size": 14, "opacity": 1},
      "encoding": {
        "xOffset": {"field": "i", "type": "nominal", "scale": {"domain": [1,2,3,4,5,6,7,8,9,10,11,12,13,14,15,16,17,18]}},
        "y": {"field": "v", "type": "quantitative", "title": "OD₄₅₀", "scale": {"domain": [0, 3]}, "axis": {"values": [0,0.2,0.4,0.6,0.8,1,1.2,1.4,1.6,1.8,2,2.2,2.4,2.6,2.8,3], "format": ".1f", "labelFontSize": 10, "labelOverlap": false}},
        "color": {"field": "g", "type": "nominal", "scale": {"domain": ["EAV-HP", "4817", "J1", "Control"], "range": ["#0000ff", "#ff0000", "#00ff00", "#ffff00"]},
          "legend": {"title": null, "orient": "none", "legendX": 233, "legendY": 6, "symbolType": "circle", "symbolSize": 14, "symbolOpacity": 1, "labelFontSize": 12, "labelOffset": 14, "rowPadding": 3}}
      }},
     {"data": {"name": "p27mean"},
      "mark": {"type": "tick", "size": 23, "thickness": 2, "opacity": 1},
      "encoding": {
        "y": {"field": "m", "type": "quantitative", "title": "OD₄₅₀", "axis": {"values": [0,0.2,0.4,0.6,0.8,1,1.2,1.4,1.6,1.8,2,2.2,2.4,2.6,2.8,3], "format": ".1f", "labelFontSize": 10, "labelOverlap": false}},
        "color": {"field": "g", "type": "nominal", "scale": {"domain": ["EAV-HP", "4817", "J1", "Control"], "range": ["#0000ff", "#ff0000", "#00ff00", "#ffff00"]},
          "legend": {"title": null, "orient": "none", "legendX": 233, "legendY": 6, "symbolType": "circle", "symbolSize": 14, "symbolOpacity": 1, "labelFontSize": 12, "labelOffset": 14, "rowPadding": 3}}
      }},
     {"data": {"values": [{"lvl": 0.5}]},
      "mark": {"type": "rule", "strokeDash": [3, 2], "color": "black", "strokeWidth": 1, "x2Offset": 8},
      "encoding": {"x": null, "y": {"field": "lvl", "type": "quantitative", "title": "OD₄₅₀", "axis": {"values": [0,0.2,0.4,0.6,0.8,1,1.2,1.4,1.6,1.8,2,2.2,2.4,2.6,2.8,3], "format": ".1f", "labelFontSize": 10, "labelOverlap": false}}}},
     {"data": {"values": [{"d": 63, "lvl": 0.5, "t": "LOD"}]},
      "mark": {"type": "text", "fontSize": 11, "fontWeight": "bold", "align": "left", "baseline": "middle", "dx": 30},
      "encoding": {"y": {"field": "lvl", "type": "quantitative", "title": "OD₄₅₀", "axis": {"values": [0,0.2,0.4,0.6,0.8,1,1.2,1.4,1.6,1.8,2,2.2,2.4,2.6,2.8,3], "format": ".1f", "labelFontSize": 10, "labelOverlap": false}}, "text": {"field": "t"}}},
     {"data": {"values": [{"d": 28, "lvl": 3.21, "t": "P27 antibody"}]},
      "mark": {"type": "text", "fontSize": 13, "fontWeight": "bold", "align": "center", "baseline": "alphabetic"},
      "encoding": {"y": {"field": "lvl", "type": "quantitative", "title": "OD₄₅₀", "axis": {"values": [0,0.2,0.4,0.6,0.8,1,1.2,1.4,1.6,1.8,2,2.2,2.4,2.6,2.8,3], "format": ".1f", "labelFontSize": 10, "labelOverlap": false}}, "text": {"field": "t"}}},
     {"data": {"values": [{"d": 7, "lvl": 3.15, "t": "D"}]},
      "mark": {"type": "text", "fontSize": 26, "fontWeight": "bold", "align": "left", "baseline": "alphabetic", "dx": -26},
      "encoding": {"y": {"field": "lvl", "type": "quantitative", "title": "OD₄₅₀", "axis": {"values": [0,0.2,0.4,0.6,0.8,1,1.2,1.4,1.6,1.8,2,2.2,2.4,2.6,2.8,3], "format": ".1f", "labelFontSize": 10, "labelOverlap": false}}, "text": {"field": "t"}}}
    ]
   }
  ]
 }
]
}
